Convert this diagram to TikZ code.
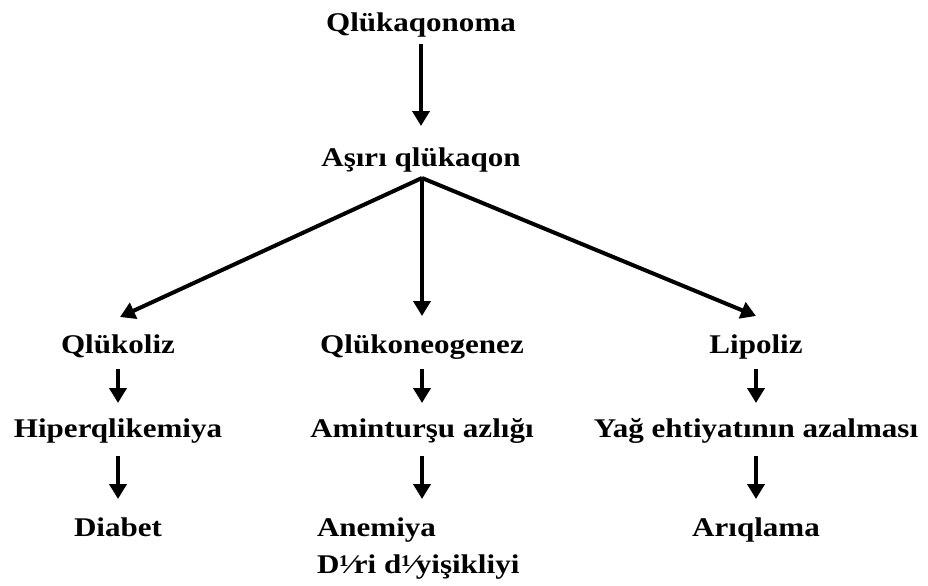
\documentclass[tikz,border=0pt]{standalone}
\usepackage{fontspec}
\setmainfont{Liberation Serif}[FakeStretch=1.15]
\usetikzlibrary{arrows.meta}

\begin{document}
\begin{tikzpicture}[x=0.5pt, y=-0.5pt, line width=2pt, >={Triangle[width=8.5pt,length=7.5pt]},
	font=\fontsize{13.5}{16}\selectfont\bfseries,
	lbl/.style={inner sep=0pt, text height=9.5pt, text depth=3pt, anchor=base},
	down0/.style={->, shorten <=2.5pt, shorten >=9.5pt},
	down1/.style={->, shorten <=4pt, shorten >=6.5pt},
	down2/.style={->, shorten <=5.5pt, shorten >=8pt}]
	\useasboundingbox (0,0) rectangle (928,585);
	% levels
	\node[lbl] (glukaqonoma) at (421,31) {Qlükaqonoma};
	\node[lbl] (asiri) at (421,166) {Aşırı qlükaqon};
	\node[lbl] (glukoliz) at (118,353) {Qlükoliz};
	\node[lbl] (glukoneo) at (422,353) {Qlükoneogenez};
	\node[lbl] (lipoliz) at (756,353) {Lipoliz};
	\node[lbl] (hiper) at (118,437) {Hiperqlikemiya};
	\node[lbl] (amin) at (422,437) {Aminturşu azlığı};
	\node[lbl] (yag) at (756,437) {Yağ ehtiyatının azalması};
	\node[lbl] (diabet) at (118,536) {Diabet};
	\node[lbl, anchor=base west] (anemiya) at (315,536) {Anemiya};
	\node[lbl, anchor=base west] (deri) at (315,573) {D¹⁄ri d¹⁄yişikliyi};
	\node[lbl] (ariqlama) at (756,536) {Arıqlama};
	\coordinate (fork) at (422,178);
	% arrows
	\draw[down0] (glukaqonoma.south) -- (asiri.north);
	\draw[->] (fork) -- ([xshift=1pt,yshift=7.5pt]glukoliz.north);
	\draw[->] (fork) -- ([yshift=8pt]glukoneo.north);
	\draw[->] (fork) -- ([yshift=8pt]lipoliz.north);
	\draw[down1] (glukoliz.south) -- (hiper.north);
	\draw[down1] (glukoneo.south) -- (amin.north);
	\draw[down1] (lipoliz.south) -- (yag.north);
	\draw[down2] (hiper.south) -- (diabet.north);
	\draw[down2] (amin.south) -- (amin.south |- anemiya.north);
	\draw[down2] (yag.south) -- (ariqlama.north);
\end{tikzpicture}
\end{document}
